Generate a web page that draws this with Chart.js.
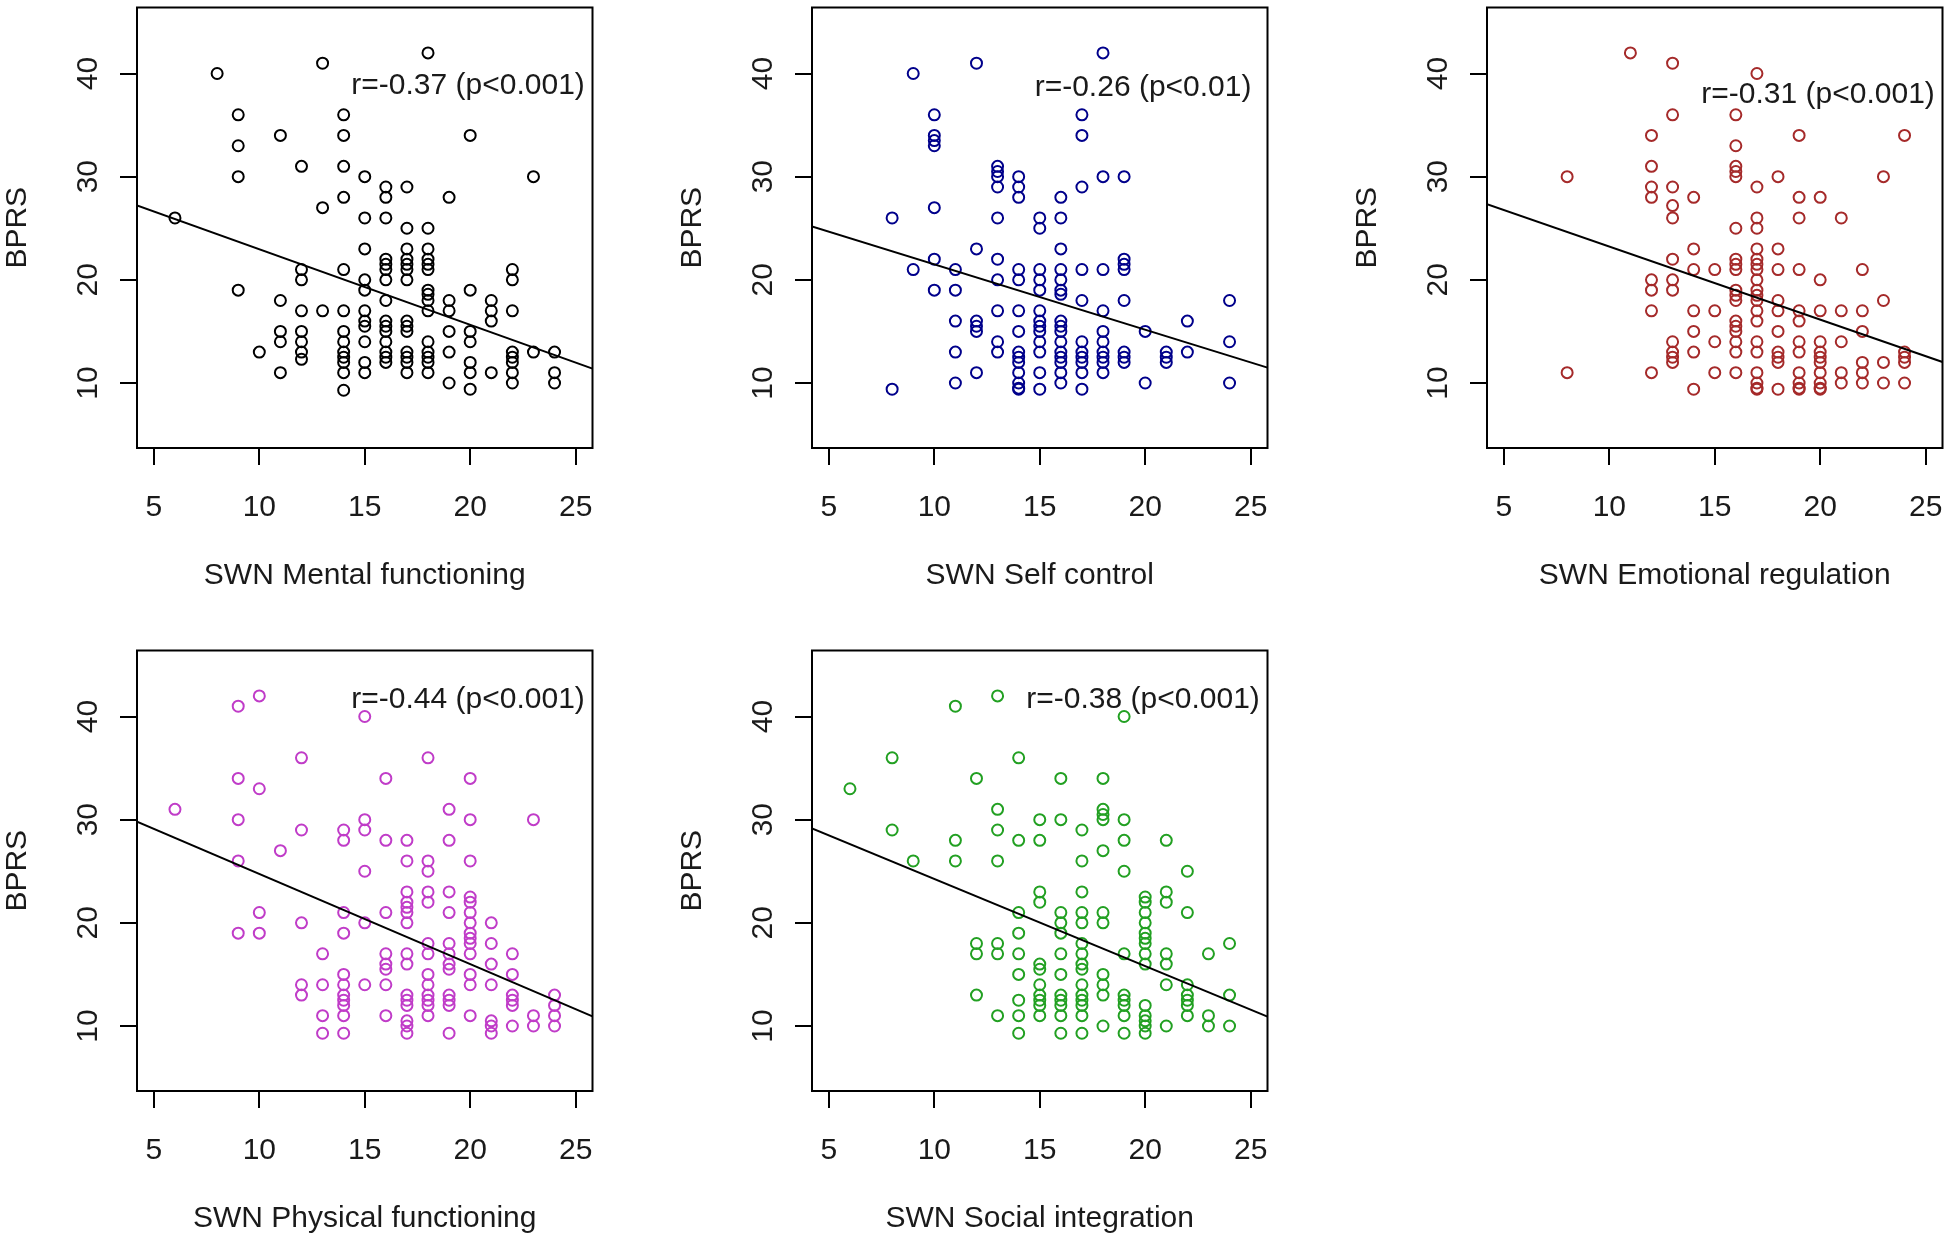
<!DOCTYPE html>
<html>
<head>
<meta charset="utf-8">
<script src="https://cdn.jsdelivr.net/npm/chart.js@4.4.1/dist/chart.umd.min.js"></script>
<style>
  body { margin: 0; background: #fff; width: 1946px; height: 1238px; overflow: hidden; position: relative; }
  .panel { position: absolute; width: 600px; height: 595px; }
</style>
</head>
<body>
<div class="panel" style="left:0px;top:0px"><canvas id="c1" width="600" height="595"></canvas></div>
<div class="panel" style="left:675px;top:0px"><canvas id="c2" width="600" height="595"></canvas></div>
<div class="panel" style="left:1350px;top:0px"><canvas id="c3" width="600" height="595"></canvas></div>
<div class="panel" style="left:0px;top:643px"><canvas id="c4" width="600" height="595"></canvas></div>
<div class="panel" style="left:675px;top:643px"><canvas id="c5" width="600" height="595"></canvas></div>
<script>
// axis ranges and ticks (same for every panel)
const xMin = 4.2, xMax = 25.8;
const yMin = 3.7, yMax = 46.4;
const xTicks = [5, 10, 15, 20, 25];
const yTicks = [10, 20, 30, 40];

// SWN Mental functioning: x columns and BPRS values at each
const mentalX = [6, 8, 9, 10, 11, 12, 13, 14, 15, 16, 17, 18, 19, 20, 21, 22, 23, 24];
const mentalY = [
  [26], [40], [36, 33, 30, 19], [13], [34, 18, 15, 14, 11],
  [31, 21, 20, 17, 15, 14, 13, 12.3],
  [41, 27, 17],
  [36, 34, 31, 28, 21, 17, 15, 14, 13, 12.5, 12, 11, 9.3],
  [30, 26, 23, 20, 19, 17, 16, 15.5, 14, 12, 11],
  [29, 28, 26, 22, 21.5, 21, 20, 18, 16, 15.5, 15, 14, 13, 12.5, 12],
  [29, 25, 23, 22, 21.5, 21, 20, 16, 15.5, 15, 13, 12.5, 12, 11],
  [42, 25, 23, 22, 21.5, 21, 19, 18.6, 18, 17, 14, 13, 12.5, 12, 11],
  [28, 18, 17, 15, 13, 10],
  [34, 19, 15, 14, 12, 11, 9.4],
  [18, 17, 16, 11],
  [21, 20, 17, 13, 12.5, 12, 11, 10],
  [30, 13],
  [13, 11, 10]
];
const mentalFit = [30.28, -0.732];

// SWN Self control
const selfX = [8, 9, 10, 11, 12, 13, 14, 15, 16, 17, 18, 19, 20, 21, 22, 24];
const selfY = [
  [26, 9.4], [40, 21], [36, 34, 33.5, 33, 27, 22, 19], [21, 19, 16, 13, 10],
  [41, 23, 16, 15.5, 15, 11],
  [31, 30.5, 30, 29, 26, 22, 20, 17, 14, 13],
  [30, 29, 28, 21, 20, 17, 15, 13, 12.5, 12, 11, 10, 9.5, 9.4],
  [26, 25, 21, 20, 19, 17, 16, 15.5, 15, 14, 13, 11, 9.4],
  [28, 26, 23, 21, 20, 19, 18.6, 16, 15.5, 15, 14, 13, 12.5, 12, 11, 10],
  [36, 34, 29, 21, 18, 14, 13, 12.5, 12, 11, 9.4],
  [42, 30, 21, 17, 15, 14, 13, 12.5, 12, 11],
  [30, 22, 21.5, 21, 18, 13, 12.5, 12],
  [15, 10], [13, 12.5, 12], [16, 13], [18, 14, 10]
];
const selfFit = [27.85, -0.634];

// SWN Emotional regulation
const emoX = [8, 11, 12, 13, 14, 15, 16, 17, 18, 19, 20, 21, 22, 23, 24];
const emoY = [
  [30, 11], [42], [34, 31, 29, 28, 20, 19, 17, 11],
  [41, 36, 29, 27.2, 26, 22, 20, 19, 14, 13, 12.5, 12],
  [28, 23, 21, 17, 15, 13, 9.4],
  [21, 17, 14, 11],
  [36, 33, 31, 30.5, 30, 25, 22, 21.5, 21, 19, 18.5, 18, 16, 15.5, 15, 14, 13, 11],
  [40, 29, 26, 25, 23, 22, 21.5, 21, 20, 19, 18.5, 18, 17, 16, 14, 13, 11, 10, 9.5, 9.4],
  [30, 23, 21, 18, 17, 15, 13, 12.5, 12, 9.4],
  [34, 28, 26, 21, 17, 16, 14, 13, 11, 10, 9.5, 9.4],
  [28, 20, 17, 14, 13, 12.5, 12, 11, 10, 9.5, 9.4],
  [26, 17, 14, 11, 10],
  [21, 17, 15, 12, 11, 10],
  [30, 18, 12, 10],
  [34, 13, 12.5, 12, 10]
];
const emoFit = [30.3, -0.708];

// SWN Physical functioning
const physX = [6, 9, 10, 11, 12, 13, 14, 15, 16, 17, 18, 19, 20, 21, 22, 23, 24];
const physY = [
  [31], [41, 34, 30, 26, 19], [42, 33, 21, 19], [27], [36, 29, 20, 14, 13],
  [17, 14, 11, 9.3],
  [29, 28, 21, 19, 15, 14, 13, 12.5, 12, 11, 9.3],
  [40, 30, 29, 25, 20, 14],
  [34, 28, 21, 17, 16, 15.5, 14, 11],
  [28, 26, 23, 22, 21.5, 21, 20, 17, 16, 13, 12.5, 12, 10.5, 10, 9.3],
  [36, 26, 25, 23, 22, 18, 17, 15, 14, 13, 12.5, 12, 11],
  [31, 28, 23, 21, 18, 17, 16, 15.5, 13, 12.5, 12, 9.3],
  [34, 30, 26, 22.5, 22, 21, 20, 19, 18.5, 18, 17, 15, 14, 11],
  [20, 18, 16, 14, 10.5, 10, 9.3],
  [17, 15, 13, 12.5, 12, 10],
  [30, 11, 10],
  [13, 12, 11, 10]
];
const physFit = [33.48, -0.874];

// SWN Social integration
const socX = [6, 8, 9, 11, 12, 13, 14, 15, 16, 17, 18, 19, 20, 21, 22, 23, 24];
const socY = [
  [33], [36, 29], [26], [41, 28, 26], [34, 18, 17, 13],
  [42, 31, 29, 26, 18, 17, 11],
  [36, 28, 21, 19, 17, 15, 12.5, 11, 9.3],
  [30, 28, 23, 22, 16, 15.5, 14, 13, 12.5, 12, 11],
  [34, 30, 21, 20, 19, 17, 15, 13, 12.5, 12, 11, 9.3],
  [29, 26, 23, 21, 20, 18, 17, 16, 15.5, 14, 13, 12.5, 12, 11, 9.3],
  [34, 31, 30.5, 30, 27, 21, 20, 15, 14, 13, 10],
  [40, 30, 28, 25, 17, 13, 12.5, 12, 11, 9.3],
  [22.5, 22, 21, 20, 19, 18.5, 18, 17, 16, 12, 11, 10.5, 10, 9.3],
  [28, 23, 22, 17, 16, 14, 10],
  [25, 21, 14, 13, 12.5, 12, 11],
  [17, 11, 10],
  [18, 13, 10]
];
const socFit = [32.71, -0.845];

const titles = ['SWN Mental functioning', 'SWN Self control', 'SWN Emotional regulation',
                'SWN Physical functioning', 'SWN Social integration'];
const rLabels = ['r=-0.37 (p<0.001)', 'r=-0.26 (p<0.01)', 'r=-0.31 (p<0.001)',
                 'r=-0.44 (p<0.001)', 'r=-0.38 (p<0.001)'];
const rLabelY = [38.8, 38.6, 37.9, 41.6, 41.6];
const colors = ['#000000', '#00008B', '#A52A2A', '#C03CC8', '#22A022'];

const FONT = '30px "Liberation Sans", Arial, sans-serif';

// box, tick labels, axis titles and r label, drawn the way R places them
const rText = {
  id: 'rText',
  afterDraw(chart, args, o) {
    const { ctx, chartArea: a, scales: { x, y } } = chart;
    ctx.save();
    ctx.strokeStyle = '#000';
    ctx.lineWidth = 2;
    ctx.strokeRect(a.left, a.top, a.right - a.left, a.bottom - a.top);
    ctx.fillStyle = '#1a1a1a';
    ctx.font = FONT;
    ctx.textAlign = 'center';
    ctx.textBaseline = 'alphabetic';
    xTicks.forEach(v => ctx.fillText(String(v), x.getPixelForValue(v), a.bottom + 68));
    yTicks.forEach(v => {
      ctx.save();
      ctx.translate(a.left - 40, y.getPixelForValue(v));
      ctx.rotate(-Math.PI / 2);
      ctx.fillText(String(v), 0, 0);
      ctx.restore();
    });
    ctx.fillText(o.title, (a.left + a.right) / 2, a.bottom + 136);
    ctx.save();
    ctx.translate(a.left - 111, (a.top + a.bottom) / 2);
    ctx.rotate(-Math.PI / 2);
    ctx.fillText('BPRS', 0, 0);
    ctx.restore();
    ctx.textBaseline = 'middle';
    ctx.fillText(o.label, x.getPixelForValue(19.9), y.getPixelForValue(o.ly));
    ctx.restore();
  }
};

function makePanel(id, xs, ys, fit, i) {
  const pts = xs.flatMap((xv, k) => ys[k].map(yv => ({ x: xv, y: yv })));
  const line = [xMin, xMax].map(xv => ({ x: xv, y: fit[0] + fit[1] * xv }));
  const axis = (min, max, ticks, w, h) => ({
    type: 'linear', min: min, max: max,
    afterBuildTicks: s => { s.ticks = ticks.map(v => ({ value: v })); },
    afterFit: s => { if (w) s.width = w; if (h) s.height = h; },
    ticks: { display: false },
    grid: { drawOnChartArea: false, drawTicks: true, tickLength: 17, color: '#000', lineWidth: 2 },
    border: { display: false }
  });
  new Chart(document.getElementById(id), {
    type: 'scatter',
    data: {
      datasets: [
        { data: line, showLine: true, borderColor: '#000', borderWidth: 2, pointRadius: 0 },
        { data: pts, pointStyle: 'circle', pointRadius: 5.5, borderWidth: 2,
          borderColor: colors[i], backgroundColor: 'rgba(0,0,0,0)' }
      ]
    },
    options: {
      responsive: false,
      animation: false,
      devicePixelRatio: 1,
      layout: { padding: { left: 0, right: 7, top: 4, bottom: 0 } },
      scales: {
        x: axis(xMin, xMax, xTicks, 0, 147),
        y: axis(yMin, yMax, yTicks, 137, 0)
      },
      plugins: {
        legend: { display: false },
        tooltip: { enabled: false },
        rText: { title: titles[i], label: rLabels[i], ly: rLabelY[i] }
      }
    },
    plugins: [rText]
  });
}

makePanel('c1', mentalX, mentalY, mentalFit, 0);
makePanel('c2', selfX, selfY, selfFit, 1);
makePanel('c3', emoX, emoY, emoFit, 2);
makePanel('c4', physX, physY, physFit, 3);
makePanel('c5', socX, socY, socFit, 4);
</script>
</body>
</html>
